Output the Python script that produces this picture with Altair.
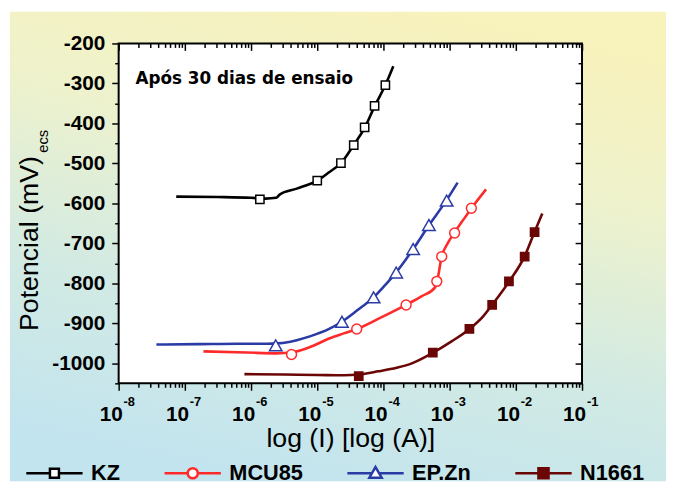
import altair as alt
import pandas as pd

FONT = "Liberation Sans, Arial, Helvetica, sans-serif"

series = ["KZ", "MCU85", "EP.Zn", "N1661"]
colors = ["#000000", "#ff2b2b", "#2b3ba6", "#6b0606"]
fills = ["#ffffff", "#ffffff", "#ffffff", "#6b0606"]
marker_shapes = ["square", "circle", "triangle-up", "square"]
marker_sizes = [70, 100, 160, 70]
legend_shapes = [
    "M-1,0H-0.16M0.16,0H1M-0.16,-0.16H0.16V0.16H-0.16Z",
    "M-1,0H-0.18M0.18,0H1M0.18,0A0.18,0.18,0,1,1,-0.18,0A0.18,0.18,0,1,1,0.18,0Z",
    "M-1,0H-0.13M0.13,0H1M0,-0.22L0.22,0.16L-0.22,0.16Z",
    "M-1,0H-0.18M0.18,0H1M-0.18,-0.18H0.18V0.18H-0.18Z",
]

# ---- curves (current in A, potential in mV) ----
kz_I = [7.41e-8, 3.16e-7, 1.0e-6, 1.66e-6, 2.40e-6, 2.70e-6, 4.90e-6, 1.0e-5, 1.51e-5,
        2.29e-5, 3.55e-5, 5.25e-5, 7.41e-5, 1.07e-4, 1.41e-4]
kz_E = [-583, -584, -586, -588, -586, -578, -563, -543, -522, -499, -454, -410, -356, -304, -257]
kz_mk_I = [1.36e-6, 1.0e-5, 2.28e-5, 3.56e-5, 5.20e-5, 7.35e-5, 1.07e-4]
kz_mk_E = [-590, -543, -499, -454, -410, -356, -304]

mcu_I = [1.91e-7, 8.71e-7, 2.45e-6, 4.07e-6, 6.31e-6, 8.71e-6, 1.51e-5, 2.51e-5, 3.98e-5,
         8.32e-5, 2.19e-4, 3.80e-4, 6.03e-4, 6.46e-4, 7.59e-4, 9.33e-4, 1.17e-3, 1.58e-3,
         2.14e-3, 3.55e-3]
mcu_E = [-970, -973, -975, -973, -965, -956, -938, -925, -914, -889, -854, -832, -810, -795,
         -733, -700, -674, -643, -612, -565]
mcu_mk_I = [4.09e-6, 3.95e-5, 2.20e-4, 6.40e-4, 7.60e-4, 1.19e-3, 2.13e-3]
mcu_mk_E = [-978, -914, -854, -795, -733, -674, -612]

ep_I = [3.72e-8, 1.58e-7, 6.31e-7, 1.78e-6, 2.51e-6, 3.55e-6, 4.90e-6, 7.94e-6, 1.51e-5,
        2.34e-5, 3.98e-5, 7.08e-5, 1.05e-4, 1.55e-4, 2.82e-4, 4.90e-4, 8.91e-4, 1.32e-3]
ep_E = [-953, -952, -951, -951, -950, -947, -942, -932, -914, -896, -868, -835, -805, -773,
        -714, -654, -593, -548]
ep_mk_I = [2.36e-6, 2.36e-5, 7.10e-5, 1.56e-4, 2.81e-4, 4.86e-4, 9.02e-4]
ep_mk_E = [-955, -896, -835, -773, -714, -654, -593]

n_I = [7.94e-7, 3.16e-6, 1.0e-5, 2.51e-5, 4.27e-5, 8.32e-5, 1.58e-4, 2.69e-4, 5.37e-4,
       1.07e-3, 2.0e-3, 3.16e-3, 4.37e-3, 7.94e-3, 1.35e-2, 1.91e-2, 2.51e-2]
n_E = [-1027, -1028, -1029, -1030, -1028, -1020, -1011, -1000, -975, -945, -914, -884,
       -854, -795, -733, -672, -625]
n_mk_I = [4.24e-5, 5.57e-4, 1.99e-3, 4.39e-3, 7.87e-3, 1.36e-2, 1.92e-2]
n_mk_E = [-1032, -973, -914, -854, -795, -733, -672]

x_major_ticks = [1e-8, 1e-7, 1e-6, 1e-5, 1e-4, 1e-3, 1e-2, 1e-1]
x_exp_labels = ["-8", "-7", "-6", "-5", "-4", "-3", "-2", "-1"]
x_minor_ticks = [k * 10.0 ** e for e in range(-8, -1) for k in range(2, 10)]
y_major_ticks = [-1000, -900, -800, -700, -600, -500, -400, -300, -200]
y_minor_ticks = [-1050, -950, -850, -750, -650, -550, -450, -350, -250]

curves = {
    "KZ": (kz_I, kz_E, kz_mk_I, kz_mk_E),
    "MCU85": (mcu_I, mcu_E, mcu_mk_I, mcu_mk_E),
    "EP.Zn": (ep_I, ep_E, ep_mk_I, ep_mk_E),
    "N1661": (n_I, n_E, n_mk_I, n_mk_E),
}

W, H = 469, 344
PL, PT, PR, PB = 112, 33, 85, 99

xscale = alt.Scale(type="log", domain=[1e-8, 1e-1], nice=False)
yscale = alt.Scale(domain=[-1050, -200], nice=False, zero=False)

one = pd.DataFrame({"a": [0]})
all_mk = pd.DataFrame({"I": sum([v[2] for v in curves.values()], []),
                       "E": sum([v[3] for v in curves.values()], [])})

x_axis = alt.Axis(
    orient="bottom", values=x_major_ticks, labelExpr="'10'",
    tickSize=7, tickWidth=1.5, tickColor="black", domain=False, grid=False,
    labelFont=FONT, labelFontSize=21, labelFontWeight="bold", labelColor="black",
    labelBaseline="alphabetic", labelPadding=31, labelOffset=-8, labelFlush=False,
    labelOverlap=False, labelBound=False,
    title="log (I) [log (A)]", titleFont=FONT, titleFontSize=27, titleFontWeight="normal",
    titleColor="black", titleX=W / 2, titleY=64, titleAlign="center", titleBaseline="alphabetic",
    zindex=1,
)
y_axis = alt.Axis(
    orient="left", values=y_major_ticks, labelExpr="'' + datum.value",
    tickSize=7, tickWidth=1.5, tickColor="black", domain=False, grid=False,
    labelFont=FONT, labelFontSize=21, labelFontWeight="bold", labelColor="black",
    labelPadding=7, labelOverlap=False, labelFlush=False, labelBound=False,
    title="Potencial (mV)", titleFont=FONT, titleFontSize=27, titleFontWeight="normal",
    titleColor="black", titleAngle=270, titleX=-82, titleY=202, titleAlign="center",
    titleBaseline="alphabetic", zindex=1,
)

gradient = alt.LinearGradient(
    gradient="linear",
    stops=[
        alt.GradientStop(color="#c2e4ef", offset=0),
        alt.GradientStop(color="#d2eae3", offset=0.35),
        alt.GradientStop(color="#eef2cc", offset=0.7),
        alt.GradientStop(color="#f8f2bc", offset=1),
    ],
    x1=0.35, y1=1, x2=0.65, y2=0,
)

bg = alt.Chart(one).mark_rect(fill=gradient).encode(
    x=alt.value(-110), x2=alt.value(W + PR), y=alt.value(-32), y2=alt.value(H + PB))
plot_bg = alt.Chart(one).mark_rect(fill="white").encode(
    x=alt.value(0), x2=alt.value(W), y=alt.value(0), y2=alt.value(H))

layers = [bg, plot_bg]
first = True
for name, color, fill, shp, size in zip(series, colors, fills, marker_shapes, marker_sizes):
    I, E, mI, mE = curves[name]
    ldf = pd.DataFrame({"I": I, "E": E, "idx": list(range(len(I)))})
    mdf = pd.DataFrame({"I": mI, "E": mE})
    if first:
        xe = alt.X("I:Q", scale=xscale, axis=x_axis)
        ye = alt.Y("E:Q", scale=yscale, axis=y_axis)
        first = False
    else:
        xe = alt.X("I:Q", scale=xscale)
        ye = alt.Y("E:Q", scale=yscale)
    layers.append(alt.Chart(ldf).mark_line(color=color, strokeWidth=2.6, interpolate="monotone")
                  .encode(x=xe, y=ye, order="idx:Q"))
    layers.append(alt.Chart(mdf).mark_point(shape=shp, size=size, stroke=color, fill=fill,
                                            filled=True, opacity=1, strokeWidth=1.5)
                  .encode(x=alt.X("I:Q", scale=xscale), y=alt.Y("E:Q", scale=yscale)))

leg = dict(
    title=None, orient="none", legendX=-95, legendY=423, direction="horizontal",
    columns=4, columnPadding=43, symbolSize=3249, symbolStrokeWidth=2.5,
    labelFont=FONT, labelFontSize=22, labelFontWeight="bold", labelColor="black",
    labelOffset=7, clipHeight=24, padding=0, zindex=1, symbolOpacity=1,
)
legend_df = pd.DataFrame({"series": series, "I": [1e-5] * 4, "E": [-3000] * 4})
legend_layer = alt.Chart(legend_df).mark_point(opacity=1, strokeWidth=2.5, clip=True).encode(
    x=alt.X("I:Q", scale=xscale),
    y=alt.Y("E:Q", scale=yscale),
    stroke=alt.Stroke("series:N", scale=alt.Scale(domain=series, range=colors),
                      legend=alt.Legend(**leg)),
    fill=alt.Fill("series:N", scale=alt.Scale(domain=series, range=fills),
                  legend=alt.Legend(**leg)),
    shape=alt.Shape("series:N", scale=alt.Scale(domain=series, range=legend_shapes),
                    legend=alt.Legend(**leg)),
)

exp_df = pd.DataFrame({"I": x_major_ticks, "lab": x_exp_labels})
exps = alt.Chart(exp_df).mark_text(
    align="left", baseline="alphabetic", dx=5, font=FONT, fontSize=13, fontWeight="bold",
    color="black").encode(
    x=alt.X("I:Q", scale=xscale), y=alt.value(H + 23), text="lab:N")

note = alt.Chart(one).mark_text(
    text="Após 30 dias de ensaio", align="left", baseline="alphabetic",
    font="Comic Sans MS, DejaVu Sans, sans-serif", fontSize=17, fontWeight="bold",
    color="black").encode(x=alt.value(17), y=alt.value(41))
sub = alt.Chart(one).mark_text(
    text="ecs", align="center", baseline="alphabetic", angle=270,
    font=FONT, fontSize=15, color="black").encode(x=alt.value(-72), y=alt.value(99))

frame = alt.Chart(one).mark_rect(fillOpacity=0, stroke="black", strokeWidth=2).encode(
    x=alt.value(0), x2=alt.value(W), y=alt.value(0), y2=alt.value(H))

main = alt.layer(*layers, legend_layer, exps, note, sub, frame)


def tick_layer(xvals, yvals, size, xorient, yorient, inward):
    off = -size if inward else 0
    return alt.Chart(all_mk).mark_point(opacity=0).encode(
        x=alt.X("I:Q", scale=xscale, axis=alt.Axis(
            orient=xorient, values=xvals, labels=False, domain=False, grid=False,
            tickSize=size, offset=off, tickWidth=1.5, tickColor="black", title=None, zindex=1)),
        y=alt.Y("E:Q", scale=yscale, axis=alt.Axis(
            orient=yorient, values=yvals, labels=False, domain=False, grid=False,
            tickSize=size, offset=off, tickWidth=1.5, tickColor="black", title=None, zindex=1)),
    )


chart = alt.layer(
    main,
    tick_layer(x_minor_ticks, y_minor_ticks, 4, "bottom", "left", False),
    tick_layer(x_major_ticks, y_major_ticks, 7, "top", "right", True),
    tick_layer(x_minor_ticks, y_minor_ticks, 4, "top", "right", True),
).resolve_scale(x="independent", y="independent").properties(
    width=W, height=H,
    autosize=alt.AutoSizeParams(type="none"),
    padding={"left": PL, "top": PT, "right": PR, "bottom": PB},
).configure_view(strokeWidth=0).configure(background="white")

chart.save("out.html", embed_options={"renderer": "svg", "actions": False})
